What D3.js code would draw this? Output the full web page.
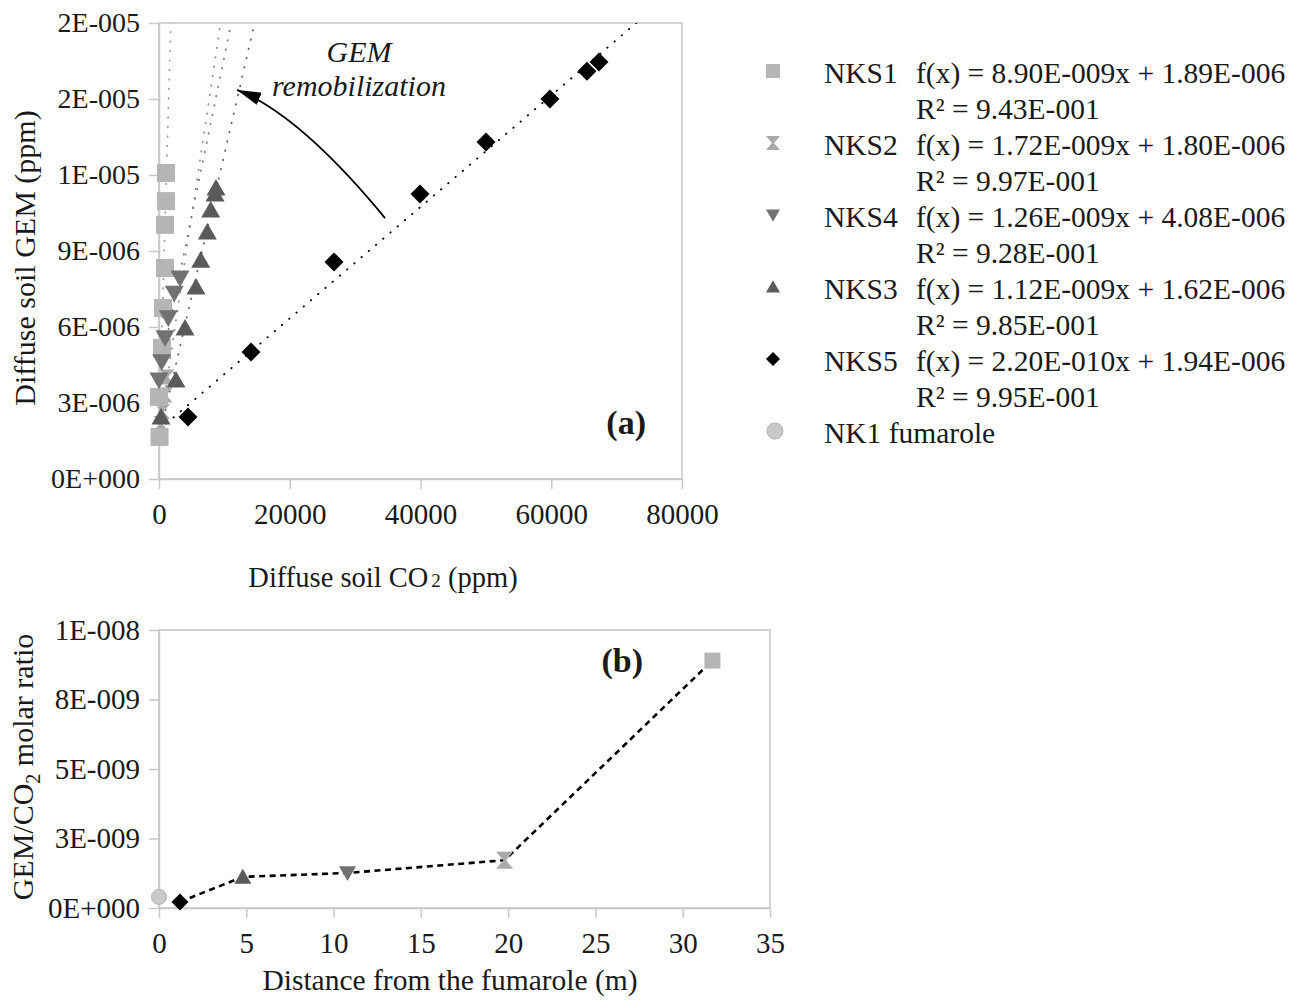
<!DOCTYPE html>
<html>
<head>
<meta charset="utf-8">
<script src="https://cdn.jsdelivr.net/npm/d3@7"></script>
<style>
  body { margin: 0; background: #fff; }
  text { font-family: "Liberation Serif", "Times New Roman", serif; fill: #1a1a1a; }
</style>
</head>
<body>
<svg id="chart" width="1291" height="1000"></svg>
<script>
// ---- panel (a): diffuse soil GEM (ppm) vs diffuse soil CO2 (ppm)
const nks1Co2 = [1070, 1070, 920, 920, 610, 460, 0, 80];
const nks1Gem = [12.08e-6, 10.97e-6, 10.03e-6, 8.33e-6, 6.75e-6, 5.17e-6, 3.24e-6, 1.66e-6];
const nks2Co2 = [1220, 920, 540, 300];
const nks2Gem = [4.03e-6, 3.32e-6, 2.66e-6, 2.19e-6];
const nks4Co2 = [3210, 2340, 1420, 920, 410, 0];
const nks4Gem = [7.93e-6, 7.33e-6, 6.36e-6, 5.57e-6, 4.62e-6, 3.9e-6];
const nks3Co2 = [8720, 8570, 7910, 7390, 6380, 5660, 3980, 2600, 310];
const nks3Gem = [11.49e-6, 11.25e-6, 10.62e-6, 9.75e-6, 8.64e-6, 7.58e-6, 5.96e-6, 3.91e-6, 2.45e-6];
const nks5Co2 = [4440, 14070, 26770, 39920, 50020, 59800, 65460, 67300];
const nks5Gem = [2.45e-6, 5.01e-6, 8.57e-6, 11.25e-6, 13.3e-6, 15.0e-6, 16.1e-6, 16.46e-6];

const seriesNames = ['NKS1', 'NKS2', 'NKS4', 'NKS3', 'NKS5'];
const slopes = [8.90e-9, 1.72e-9, 1.26e-9, 1.12e-9, 2.20e-10];
const intercepts = [1.89e-6, 1.80e-6, 4.08e-6, 1.62e-6, 1.94e-6];
const equations = [
  'f(x) = 8.90E-009x + 1.89E-006',
  'f(x) = 1.72E-009x + 1.80E-006',
  'f(x) = 1.26E-009x + 4.08E-006',
  'f(x) = 1.12E-009x + 1.62E-006',
  'f(x) = 2.20E-010x + 1.94E-006'
];
const r2Labels = ['R² = 9.43E-001', 'R² = 9.97E-001', 'R² = 9.28E-001', 'R² = 9.85E-001', 'R² = 9.95E-001'];
const fumaroleName = 'NK1 fumarole';

const xTicksA = [0, 20000, 40000, 60000, 80000];
const yTicksA = [0, 3e-6, 6e-6, 9e-6, 12e-6, 15e-6, 18e-6];
const yTickLabelsA = ['0E+000', '3E-006', '6E-006', '9E-006', '1E-005', '2E-005', '2E-005'];

// annotation arrow in data units: start, control, tip
const arrowCo2 = [34570, 21570, 11930];
const arrowGem = [10.3e-6, 14.37e-6, 15.36e-6];

// ---- panel (b): GEM/CO2 molar ratio vs distance from the fumarole
const ratioNames = ['NK1 fumarole', 'NKS5', 'NKS3', 'NKS4', 'NKS2', 'NKS1'];
const distances = [0, 1.2, 4.8, 10.8, 19.8, 31.7];
const ratios = [4.0e-10, 2.2e-10, 1.12e-9, 1.26e-9, 1.72e-9, 8.9e-9];
const xTicksB = [0, 5, 10, 15, 20, 25, 30, 35];
const yTicksB = [0, 2.5e-9, 5e-9, 7.5e-9, 1e-8];
const yTickLabelsB = ['0E+000', '3E-009', '5E-009', '8E-009', '1E-008'];

const markStyle = {
  'NKS1': { shape: 'square', fill: '#b5b5b5' },
  'NKS2': { shape: 'hourglass', fill: '#a9a9a9' },
  'NKS4': { shape: 'down', fill: '#727272' },
  'NKS3': { shape: 'up', fill: '#5a5a5a' },
  'NKS5': { shape: 'diamond', fill: '#000' },
  'NK1 fumarole': { shape: 'circle', fill: '#c9c9c9', stroke: '#b3b3b3' }
};
const trendColor = { 'NKS1': '#a0a0a0', 'NKS2': '#909090', 'NKS4': '#7a7a7a', 'NKS3': '#606060', 'NKS5': '#000' };

function shapePath(shape, r) {
  switch (shape) {
    case 'square': return `M${-r},${-r}H${r}V${r}H${-r}Z`;
    case 'diamond': return `M0,${-r}L${r},0L0,${r}L${-r},0Z`;
    case 'up': return `M0,${-0.95 * r}L${r},${0.8 * r}L${-r},${0.8 * r}Z`;
    case 'down': return `M0,${0.95 * r}L${r},${-0.8 * r}L${-r},${-0.8 * r}Z`;
    case 'hourglass': return `M${-r},${-r}H${r}L${0.15 * r},0L${r},${r}H${-r}L${-0.15 * r},0Z`;
    default: return `M${r},0A${r},${r} 0 1,1 ${-r},0A${r},${r} 0 1,1 ${r},0Z`;
  }
}
const markSize = { square: 9, diamond: 9.5, up: 9.5, down: 9.5, hourglass: 7.5, circle: 7.5 };

const svg = d3.select('#chart');
const axisColor = '#c8c8c8';

function styleAxis(g, fontSize) {
  g.attr('font-family', '"Liberation Serif", "Times New Roman", serif')
    .attr('font-size', fontSize);
  g.selectAll('.domain, .tick line').attr('stroke', axisColor).attr('stroke-width', 1.5);
  g.selectAll('text').attr('fill', '#1a1a1a');
}

// ================= panel (a)
const xA = d3.scaleLinear().domain([0, 80000]).range([159, 682]);
const yA = d3.scaleLinear().domain([0, 1.8e-5]).range([479, 23]);

svg.append('rect')
  .attr('x', xA(0)).attr('y', yA(1.8e-5))
  .attr('width', xA(80000) - xA(0)).attr('height', yA(0) - yA(1.8e-5))
  .attr('fill', 'none').attr('stroke', axisColor).attr('stroke-width', 1.5);

svg.append('g')
  .attr('transform', `translate(0, ${yA(0)})`)
  .call(d3.axisBottom(xA).tickValues(xTicksA).tickFormat(d => String(d))
    .tickSize(10).tickSizeOuter(0).tickPadding(14))
  .call(g => styleAxis(g, 29));

svg.append('g')
  .attr('transform', `translate(${xA(0)}, 0)`)
  .call(d3.axisLeft(yA).tickValues(yTicksA).tickFormat((d, i) => yTickLabelsA[i])
    .tickSize(10).tickSizeOuter(0).tickPadding(9))
  .call(g => styleAxis(g, 28));

svg.append('defs').append('clipPath').attr('id', 'clip-a')
  .append('rect')
  .attr('x', xA(0)).attr('y', yA(1.8e-5))
  .attr('width', xA(80000) - xA(0)).attr('height', yA(0) - yA(1.8e-5));

// trendlines
const trendG = svg.append('g').attr('clip-path', 'url(#clip-a)');
const trendLine = d3.line().x(d => xA(d[0])).y(d => yA(d[1]));
seriesNames.forEach((name, i) => {
  const pts = [0, 90000].map(x => [x, slopes[i] * x + intercepts[i]]);
  trendG.append('path')
    .attr('d', trendLine(pts))
    .attr('fill', 'none')
    .attr('stroke', trendColor[name])
    .attr('stroke-width', 1.8)
    .attr('stroke-linecap', 'round')
    .attr('stroke-dasharray', '0.5,9');
});

// scatter points
const scatter = {
  'NKS1': [nks1Co2, nks1Gem],
  'NKS2': [nks2Co2, nks2Gem],
  'NKS4': [nks4Co2, nks4Gem],
  'NKS3': [nks3Co2, nks3Gem],
  'NKS5': [nks5Co2, nks5Gem]
};
['NKS2', 'NKS1', 'NKS4', 'NKS3', 'NKS5'].forEach(name => {
  const [xs, ys] = scatter[name];
  const st = markStyle[name];
  svg.append('g').selectAll('path')
    .data(xs.map((x, i) => [x, ys[i]]))
    .join('path')
    .attr('transform', d => `translate(${xA(d[0])}, ${yA(d[1])})`)
    .attr('d', shapePath(st.shape, markSize[st.shape]))
    .attr('fill', st.fill);
});

// arrow annotation
const defs = svg.select('defs');
defs.append('marker')
  .attr('id', 'arrow-head')
  .attr('viewBox', '0 -7 24 14')
  .attr('refX', 24).attr('refY', 0)
  .attr('markerWidth', 24).attr('markerHeight', 14)
  .attr('markerUnits', 'userSpaceOnUse')
  .attr('orient', 'auto')
  .append('path')
  .attr('d', 'M24,0L0,-6.5L0,6.5Z')
  .attr('fill', '#000');

const arrowPath = d3.path();
arrowPath.moveTo(xA(arrowCo2[0]), yA(arrowGem[0]));
arrowPath.quadraticCurveTo(xA(arrowCo2[1]), yA(arrowGem[1]), xA(arrowCo2[2]), yA(arrowGem[2]));
svg.append('path')
  .attr('d', arrowPath.toString())
  .attr('fill', 'none')
  .attr('stroke', '#000')
  .attr('stroke-width', 1.8)
  .attr('marker-end', 'url(#arrow-head)');

svg.append('text')
  .attr('x', 359).attr('y', 62)
  .attr('text-anchor', 'middle')
  .attr('font-style', 'italic')
  .attr('font-size', 30)
  .text('GEM');
svg.append('text')
  .attr('x', 359).attr('y', 96)
  .attr('text-anchor', 'middle')
  .attr('font-style', 'italic')
  .attr('font-size', 30)
  .text('remobilization');

svg.append('text')
  .attr('x', 646).attr('y', 434)
  .attr('text-anchor', 'end')
  .attr('font-weight', 'bold')
  .attr('font-size', 34)
  .text('(a)');

// axis titles
svg.append('text')
  .attr('transform', 'translate(35, 258) rotate(-90)')
  .attr('text-anchor', 'middle')
  .attr('font-size', 30)
  .text('Diffuse soil GEM (ppm)');

const xTitleA = svg.append('text')
  .attr('x', 383).attr('y', 587)
  .attr('text-anchor', 'middle')
  .attr('font-size', 28.5);
xTitleA.append('tspan').text('Diffuse soil CO');
xTitleA.append('tspan').attr('dx', 3).attr('font-size', 19).text('2');
xTitleA.append('tspan').text(' (ppm)');

// legend
const legendG = svg.append('g');
seriesNames.forEach((name, i) => {
  const cy = 73 + i * 72;
  const st = markStyle[name];
  legendG.append('path')
    .attr('transform', `translate(773, ${cy - 2})`)
    .attr('d', shapePath(st.shape, 7))
    .attr('fill', st.fill);
  legendG.append('text').attr('x', 824).attr('y', cy + 10).attr('font-size', 29.5).text(name);
  legendG.append('text').attr('x', 916).attr('y', cy + 10).attr('font-size', 29.5).text(equations[i]);
  legendG.append('text').attr('x', 916).attr('y', cy + 46).attr('font-size', 29.5).text(r2Labels[i]);
});
{
  const cy = 73 + 5 * 72;
  const st = markStyle[fumaroleName];
  legendG.append('path')
    .attr('transform', `translate(775, ${cy - 2})`)
    .attr('d', shapePath(st.shape, 8))
    .attr('fill', st.fill).attr('stroke', st.stroke).attr('stroke-width', 1);
  legendG.append('text').attr('x', 824).attr('y', cy + 10).attr('font-size', 29.5).text(fumaroleName);
}

// ================= panel (b)
const xB = d3.scaleLinear().domain([0, 35]).range([159, 770]);
const yB = d3.scaleLinear().domain([0, 1e-8]).range([908, 630]);

svg.append('rect')
  .attr('x', xB(0)).attr('y', yB(1e-8))
  .attr('width', xB(35) - xB(0)).attr('height', yB(0) - yB(1e-8))
  .attr('fill', 'none').attr('stroke', axisColor).attr('stroke-width', 1.5);

svg.append('g')
  .attr('transform', `translate(0, ${yB(0)})`)
  .call(d3.axisBottom(xB).tickValues(xTicksB).tickFormat(d => String(d))
    .tickSize(10).tickSizeOuter(0).tickPadding(14))
  .call(g => styleAxis(g, 29));

svg.append('g')
  .attr('transform', `translate(${xB(0)}, 0)`)
  .call(d3.axisLeft(yB).tickValues(yTicksB).tickFormat((d, i) => yTickLabelsB[i])
    .tickSize(10).tickSizeOuter(0).tickPadding(9))
  .call(g => styleAxis(g, 29));

const ratioPts = distances.map((d, i) => ({ name: ratioNames[i], x: d, y: ratios[i] }));

svg.append('path')
  .attr('d', d3.line().x(d => xB(d.x)).y(d => yB(d.y))(ratioPts.slice(1)))
  .attr('fill', 'none')
  .attr('stroke', '#000')
  .attr('stroke-width', 2.6)
  .attr('stroke-dasharray', '6,4.5');

svg.append('g').selectAll('path')
  .data(ratioPts)
  .join('path')
  .attr('transform', d => `translate(${xB(d.x)}, ${yB(d.y)})`)
  .attr('d', d => {
    const st = markStyle[d.name];
    return shapePath(st.shape, st.shape === 'square' ? 8 : st.shape === 'circle' ? 7.5 : 8.5);
  })
  .attr('fill', d => markStyle[d.name].fill)
  .attr('stroke', d => markStyle[d.name].stroke || 'none')
  .attr('stroke-width', 1);

svg.append('text')
  .attr('x', 643).attr('y', 672)
  .attr('text-anchor', 'end')
  .attr('font-weight', 'bold')
  .attr('font-size', 34)
  .text('(b)');

const yTitleB = svg.append('text')
  .attr('transform', 'translate(33, 767) rotate(-90)')
  .attr('text-anchor', 'middle')
  .attr('font-size', 30);
yTitleB.append('tspan').text('GEM/CO');
yTitleB.append('tspan').attr('font-size', 20).attr('dy', 7).text('2');
yTitleB.append('tspan').attr('dy', -7).text(' molar ratio');

svg.append('text')
  .attr('x', 450).attr('y', 990)
  .attr('text-anchor', 'middle')
  .attr('font-size', 29.5)
  .text('Distance from the fumarole (m)');
</script>
</body>
</html>
